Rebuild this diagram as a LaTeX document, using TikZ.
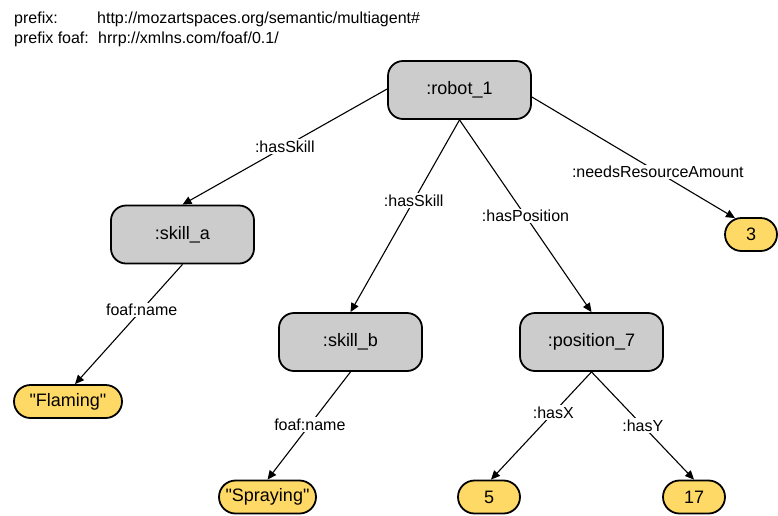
\documentclass[tikz,border=0pt]{standalone}
\usepackage{fontspec}
\setmainfont{Liberation Sans}[Ligatures=TeXOff]
\usetikzlibrary{arrows.meta,shapes.misc}
\definecolor{resgray}{RGB}{204,204,204}
\definecolor{lityellow}{RGB}{255,217,102}
\tikzset{
  resource/.style={draw=black, line width=1.8pt, fill=resgray, rounded corners=15pt,
    minimum width=143pt, minimum height=58pt, inner sep=0pt,
    font=\fontsize{18}{21}\selectfont},
  literal/.style={draw=black, line width=1.8pt, fill=lityellow, rounded rectangle,
    minimum height=33pt, inner sep=0pt, font=\fontsize{18}{21}\selectfont},
  rel/.style={draw=black, line width=1.1pt, -{Triangle[length=9pt,width=8pt]}},
  edgelabel/.style={fill=white, inner sep=1.5pt, font=\fontsize{16}{19}\selectfont},
  header/.style={anchor=base west, inner sep=0pt, font=\fontsize{16}{19}\selectfont}
}
\begin{document}
\begin{tikzpicture}[x=1pt,y=-1pt]
\useasboundingbox (0,0) rectangle (778,515);

% namespace prefixes
\node[header] (p1) at (14,23) {prefix:};
\node[header] (u1) at (97,23) {http://mozartspaces.org/semantic/multiagent\#};
\node[header] (p2) at (14,43) {prefix foaf:};
\node[header] (u2) at (98,43) {hrrp://xmlns.com/foaf/0.1/};

% resources
\node[resource] (robot)  at (459.5,90)  {:robot\_1};
\node[resource] (skilla) at (182.5,234.5) {:skill\_a};
\node[resource] (skillb) at (350.5,342) {:skill\_b};
\node[resource] (pos)    at (591.5,342) {:position\_7};

% literals
\node[literal, minimum width=52pt]  (three)     at (751,234.5) {3};
\node[literal, minimum width=108pt] (flaming)   at (68,401.5)  {"Flaming"};
\node[literal, minimum width=97pt]  (spraying)  at (267.5,497) {"Spraying"};
\node[literal, minimum width=62pt]  (five)      at (489,497)   {5};
\node[literal, minimum width=62pt]  (seventeen) at (694,497)   {17};

% properties
\draw[rel] ([yshift=1pt]robot.west) -- (skilla.north)
  node[edgelabel, pos=0.5] {:hasSkill};
\draw[rel] (robot.south) -- (skillb.north)
  node[edgelabel, pos=0.42] {:hasSkill};
\draw[rel] (robot.south) -- (pos.north)
  node[edgelabel, pos=0.5] {:hasPosition};
\draw[rel] ([yshift=-7pt]robot.east) -- ([xshift=-16pt,yshift=-1pt]three.north)
  node[edgelabel, pos=0.62] {:needsResourceAmount};
\draw[rel] (skilla.south) -- ([xshift=7pt]flaming.north)
  node[edgelabel, pos=0.38] {foaf:name};
\draw[rel] (skillb.south) -- (spraying.north)
  node[edgelabel, pos=0.49] {foaf:name};
\draw[rel] (pos.south) -- ([xshift=2pt]five.north)
  node[edgelabel, pos=0.38] {:hasX};
\draw[rel] (pos.south) -- (seventeen.north)
  node[edgelabel, pos=0.5] {:hasY};
\end{tikzpicture}
\end{document}
